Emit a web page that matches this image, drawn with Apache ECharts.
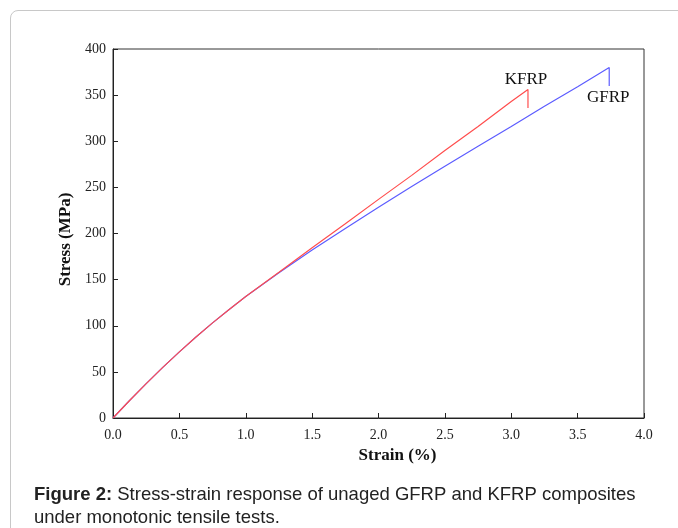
<!DOCTYPE html>
<html>
<head>
<meta charset="utf-8">
<script src="https://cdn.jsdelivr.net/npm/echarts@6/dist/echarts.min.js"></script>
<style>
  html, body { margin: 0; padding: 0; background: #fff; }
  #frame {
    position: absolute; left: 10px; top: 10px; width: 720px; height: 600px;
    border: 1px solid #c8c8c8; border-radius: 8px; box-sizing: border-box;
  }
  #chart { position: absolute; left: 0; top: 0; width: 678px; height: 528px; }
</style>
</head>
<body>
<div id="frame"></div>
<div id="chart"></div>
<script>
// values
var kfrpStrain = [0, 0.125, 0.25, 0.375, 0.5, 0.625, 0.75, 0.875, 1.0, 1.25, 1.5, 1.75, 2.0, 2.25, 2.5, 2.75, 3.0, 3.126, 3.126];
var kfrpStress = [0, 19, 37.3, 54.9, 71.7, 87.8, 103.1, 117.7, 131.6, 158, 184.5, 210.5, 237, 263, 290, 316, 343, 356, 336];
var gfrpStrain = [0, 0.125, 0.25, 0.375, 0.5, 0.625, 0.75, 0.875, 1.0, 1.25, 1.5, 1.75, 2.0, 2.25, 2.5, 2.75, 3.0, 3.25, 3.5, 3.738, 3.738];
var gfrpStress = [0, 19, 37.3, 54.9, 71.7, 87.8, 103.1, 117.7, 131.6, 157.5, 182, 205.5, 228.5, 251, 273, 294.5, 316, 338, 359, 380, 360];
var xTicks = [0, 0.5, 1.0, 1.5, 2.0, 2.5, 3.0, 3.5, 4.0];

function pairs(xs, ys) {
  var out = [];
  for (var i = 0; i < xs.length; i++) out.push([xs[i], ys[i]]);
  return out;
}

var chart = echarts.init(document.getElementById('chart'));
var serif = '"Liberation Serif", "Times New Roman", serif';
var sans = '"Liberation Sans", Arial, sans-serif';

var option = {
  animation: false,
  grid: {
    left: 113, top: 49, right: 34, bottom: 110,
    show: true, borderColor: '#333', borderWidth: 1
  },
  xAxis: {
    type: 'value', min: 0, max: 4, interval: 0.5,
    name: 'Strain (%)', nameLocation: 'middle', nameGap: 28,
    nameTextStyle: { fontFamily: serif, fontWeight: 'bold', fontSize: 17, color: '#111', padding: [0, 0, 0, 38] },
    axisLine: { lineStyle: { color: '#222' } },
    axisTick: { inside: true, length: 5, lineStyle: { color: '#222' } },
    axisLabel: {
      fontFamily: serif, fontSize: 14, color: '#222', margin: 10,
      formatter: function (v) { return v.toFixed(1); }
    },
    splitLine: { show: false }
  },
  yAxis: {
    type: 'value', min: 0, max: 400, interval: 50,
    name: 'Stress (MPa)', nameLocation: 'middle', nameGap: 38,
    nameTextStyle: { fontFamily: serif, fontWeight: 'bold', fontSize: 17, color: '#111', padding: [0, 12, 0, 0] },
    axisLine: { show: true, lineStyle: { color: '#222' } },
    axisTick: { show: true, inside: true, length: 5, lineStyle: { color: '#222' } },
    axisLabel: { fontFamily: serif, fontSize: 14, color: '#222', margin: 7 },
    splitLine: { show: false }
  },
  series: [
    {
      name: 'GFRP', type: 'line', showSymbol: false,
      data: pairs(gfrpStrain, gfrpStress),
      lineStyle: { color: '#5c5cff', width: 1.2 },
      markPoint: {
        symbol: 'circle', symbolSize: 0,
        data: [{ coord: [gfrpStrain[gfrpStrain.length - 1], gfrpStress[gfrpStress.length - 1]] }],
        label: {
          show: true, formatter: 'GFRP', position: 'bottom', distance: 3,
          offset: [-1, 0],
          fontFamily: serif, fontSize: 17, color: '#111'
        }
      }
    },
    {
      name: 'KFRP', type: 'line', showSymbol: false,
      data: pairs(kfrpStrain, kfrpStress),
      lineStyle: { color: '#ff4d4d', width: 1.2 },
      markPoint: {
        symbol: 'circle', symbolSize: 0,
        data: [{ coord: [kfrpStrain[kfrpStrain.length - 2], kfrpStress[kfrpStress.length - 2]] }],
        label: {
          show: true, formatter: 'KFRP', position: 'top', distance: 2,
          offset: [-2, 0],
          fontFamily: serif, fontSize: 17, color: '#111'
        }
      }
    }
  ],
  graphic: [
    {
      type: 'text', left: 34, top: 483,
      style: {
        text: '{b|Figure 2:} Stress-strain response of unaged GFRP and KFRP composites\nunder monotonic tensile tests.',
        font: '18.5px ' + sans,
        fill: '#222', lineHeight: 23,
        rich: {
          b: { fontWeight: 'bold', fontSize: 18.5, fontFamily: sans, fill: '#222' }
        }
      }
    }
  ]
};

chart.setOption(option);
</script>
</body>
</html>
